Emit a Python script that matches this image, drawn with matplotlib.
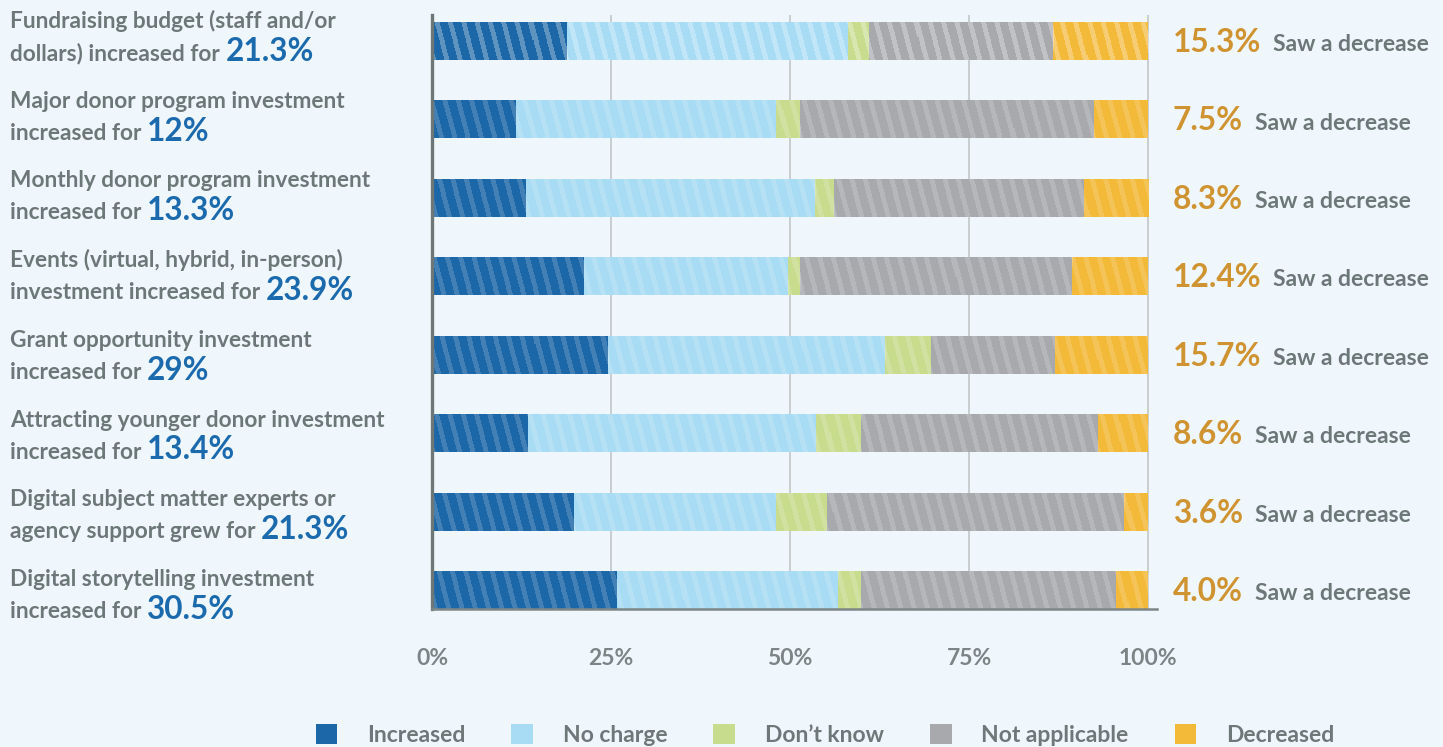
import numpy as np
import matplotlib.pyplot as plt
from matplotlib.patches import Patch
from matplotlib.transforms import blended_transform_factory, offset_copy

# label text, split in two lines (second line ends with the blue number)
label_line1 = ["Fundraising budget (staff and/or", "Major donor program investment",
               "Monthly donor program investment", "Events (virtual, hybrid, in-person)",
               "Grant opportunity investment", "Attracting younger donor investment",
               "Digital subject matter experts or", "Digital storytelling investment"]
label_line2 = ["dollars) increased for", "increased for", "increased for",
               "investment increased for", "increased for", "increased for",
               "agency support grew for", "increased for"]
increased_labels = ["21.3%", "12%", "13.3%", "23.9%", "29%", "13.4%", "21.3%", "30.5%"]
decreased_labels = ["15.3%", "7.5%", "8.3%", "12.4%", "15.7%", "8.6%", "3.6%", "4.0%"]

series_names = ["Increased", "No charge", "Don\u2019t know", "Not applicable", "Decreased"]
increased = [18.9, 11.7, 13.1, 21.2, 24.6, 13.4, 19.8, 25.8]
no_change = [39.2, 36.3, 40.4, 28.5, 38.7, 40.2, 28.2, 30.9]
dont_know = [2.9, 3.4, 2.7, 1.7, 6.4, 6.3, 7.1, 3.2]
not_applicable = [25.7, 41.1, 34.8, 38.0, 17.3, 33.1, 41.5, 35.6]
decreased = [13.3, 7.5, 9.1, 10.6, 13.0, 7.0, 3.4, 4.5]

x_ticks = [0, 25, 50, 75, 100]
x_tick_labels = ["0%", "25%", "50%", "75%", "100%"]

colors = ["#1c67a8", "#a8dcf4", "#c8dc8e", "#a7a9ad", "#f3b938"]
bg = "#eff7fc"
gray = "#6c7777"
blue = "#1c6aae"
orange = "#d09331"
FONT = "Lato"

W_PX, H_PX = 1443, 747
fig = plt.figure(figsize=(W_PX / 100, H_PX / 100), dpi=100, facecolor=bg)
ax_l, ax_r, ax_t, ax_b = 432, 1157, 15, 609
ax = fig.add_axes([ax_l / W_PX, 1 - ax_b / H_PX, (ax_r - ax_l) / W_PX, (ax_b - ax_t) / H_PX])
ax.set_facecolor(bg)

xmax = 100 * (ax_r - ax_l) / (1148 - ax_l)
ybot, ytop = 7.2425, -0.332
bar_h = 0.485

n = len(increased)
y = np.arange(n)
series = [increased, no_change, dont_know, not_applicable, decreased]
left = np.zeros(n)
bars = []
for vals, col in zip(series, colors):
    b = ax.barh(y, vals, left=left, height=bar_h, color=col, linewidth=0, zorder=2)
    bars.append(b)
    left += np.array(vals)

# diagonal light stripes over every bar segment
th, tw = ax_b - ax_t, ax_r - ax_l
rr, cc = np.mgrid[0:th, 0:tw]
stripe = ((cc - rr * 0.27) % 13.3) < 5.0
for b in bars:
    for i, patch in enumerate(b.patches):
        a = 0.3 if i == 0 else 0.17
        tex = np.zeros((th, tw, 4))
        tex[..., :3] = 1.0
        tex[..., 3] = stripe * a
        im = ax.imshow(tex, extent=(0, xmax, ybot, ytop), origin="upper",
                       interpolation="nearest", aspect="auto", zorder=3)
        im.set_clip_path(patch)

ax.set_xlim(0, xmax)
ax.set_ylim(ybot, ytop)
ax.set_yticks([])
ax.set_xticks(x_ticks)
ax.set_xticklabels(x_tick_labels, fontfamily=FONT, fontweight="bold", fontsize=16.5, color="#7b8585")
ax.tick_params(axis="x", length=0, pad=28)
ax.xaxis.grid(True, color="#c5cacd", linewidth=1.3)
ax.set_axisbelow(True)
for s in ["top", "right"]:
    ax.spines[s].set_visible(False)
ax.spines["left"].set_color("#6d7777")
ax.spines["left"].set_linewidth(2.4)
ax.spines["left"].set_zorder(5)
ax.spines["bottom"].set_color("#7d8787")
ax.spines["bottom"].set_linewidth(1.8)
ax.spines["bottom"].set_zorder(5)

# left labels (original spacing drifts slightly from the bar spacing)
tr_left = blended_transform_factory(fig.transFigure, ax.transData)
for i in range(n):
    yl = i * 1.0166
    ax.text(10 / W_PX, yl, label_line1[i], transform=offset_copy(tr_left, fig, y=13, units="dots"),
            fontfamily=FONT, fontweight="bold", fontsize=16.3, color=gray, va="baseline", ha="left")
    t2 = ax.text(10 / W_PX, yl, label_line2[i], transform=offset_copy(tr_left, fig, y=-19, units="dots"),
                 fontfamily=FONT, fontweight="bold", fontsize=16.3, color=gray, va="baseline", ha="left")
    ax.annotate(increased_labels[i], xy=(1, 0), xycoords=t2, xytext=(4, -1.3), textcoords="offset points",
                fontfamily=FONT, fontweight="bold", fontsize=22.7, color=blue, va="bottom", ha="left")

# right labels
for i in range(n):
    t = ax.text(1173 / W_PX, i, decreased_labels[i], transform=offset_copy(tr_left, fig, y=-11, units="dots"),
                fontfamily=FONT, fontweight="bold", fontsize=22.8, color=orange, va="baseline", ha="left")
    ax.annotate("Saw a decrease", xy=(1, 0), xycoords=t, xytext=(8.5, 1.3), textcoords="offset points",
                fontfamily=FONT, fontweight="bold", fontsize=16.5, color=gray, va="bottom", ha="left")

handles = [Patch(facecolor=c, edgecolor="none") for c in colors]
fig.legend(handles, series_names, loc="center", bbox_to_anchor=(825 / W_PX, 1 - 735 / H_PX),
           ncol=5, frameon=False, handlelength=0.95, handleheight=0.95, handletextpad=1.3,
           columnspacing=2.0, labelcolor="#6e7878",
           prop={"family": FONT, "weight": "bold", "size": 16.5})

fig.savefig("out.png", dpi=100, facecolor=bg)
